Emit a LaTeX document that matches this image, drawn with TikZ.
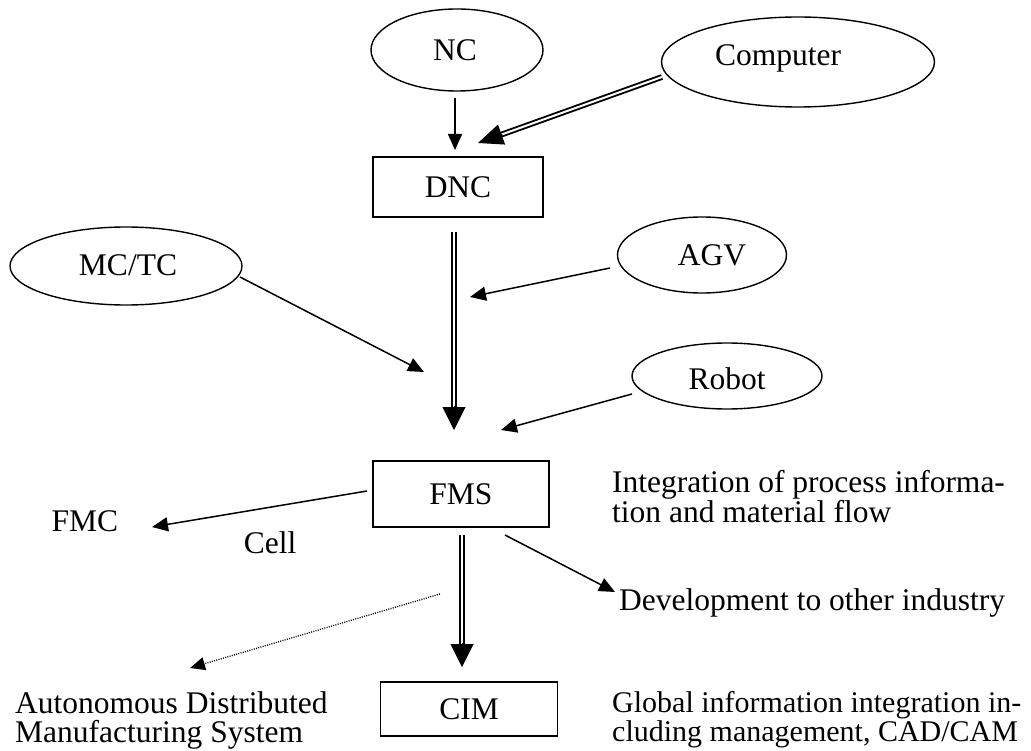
\documentclass[tikz,border=0pt]{standalone}
\usepackage{fontspec}
\setmainfont{Liberation Serif}
\usetikzlibrary{arrows.meta,shapes.geometric,calc}
\begin{document}
\begin{tikzpicture}[x=1pt,y=-1pt,
  font=\fontsize{31.5}{30}\selectfont,
  ell/.style={draw,ellipse,line width=1.4pt,inner sep=0pt},
  boxnode/.style={draw,rectangle,line width=1.4pt,inner sep=0pt},
  txt/.style={inner sep=0pt},
  arr/.style={line width=1.5pt,-{Triangle[length=16pt,width=14pt]}},
  dotarr/.style={line width=1.3pt,dash pattern=on 1pt off 1.3pt,-{Triangle[length=15pt,width=13pt]}},
  dbl/.style={double,line width=2.6pt,double distance=1.5pt},
  dblthin/.style={double,line width=1.9pt,double distance=2pt},
  bigtip/.style={-{Triangle[length=23pt,width=23pt]}},
  midtip/.style={-{Triangle[length=25pt,width=21pt]}}
]
\useasboundingbox (0,0) rectangle (1031,751);

% nodes
\node[ell,minimum width=172pt,minimum height=82pt] (nc) at (457,50) {};
\node[txt] (nct) at (455,50) {NC};
\node[ell,minimum width=273pt,minimum height=90pt] (comp) at (798,62) {};
\node[txt] (compt) at (778,58) {Computer};
\node[boxnode,minimum width=170pt,minimum height=60pt] (dnc) at (458,187) {DNC};
\node[ell,minimum width=232pt,minimum height=78pt] (mctc) at (126,266) {};
\node[txt] (mctct) at (128,265) {MC/TC};
\node[ell,minimum width=169pt,minimum height=76pt] (agv) at (702,255) {};
\node[txt] (agvt) at (712,255) {AGV};
\node[ell,minimum width=190pt,minimum height=66pt] (robot) at (727,376) {};
\node[txt] (robott) at (727,379) {Robot};
\node[boxnode,minimum width=176pt,minimum height=66pt] (fms) at (461,494) {FMS};
\node[txt] (fmc) at (85,521) {FMC};
\node[txt] (cell) at (270,543) {Cell};
\node[txt,align=left,anchor=west] (integ) at (612,497) {Integration of process informa-\\tion and material flow};
\node[txt,anchor=west] (dev) at (619,603) {Development to other industry};
\node[boxnode,minimum width=177pt,minimum height=54pt] (cim) at (469,709) {CIM};
\node[txt,align=left,anchor=west,font=\fontsize{31.5}{29}\selectfont] (auto) at (15,720) {Autonomous Distributed\\Manufacturing System};
\node[txt,align=left,anchor=west,font=\fontsize{30}{29}\selectfont] (glob) at (612,720) {Global information integration in-\\cluding management, CAD/CAM};

% connector end points
\coordinate (ncA) at (455,98);
\coordinate (ncB) at (455,150);
\coordinate (compA) at (662,77);
\coordinate (compB) at (478,143);
\coordinate (dncA) at (454,232);
\coordinate (dncB) at (454,430);
\coordinate (mcA) at (240,277);
\coordinate (mcB) at (424,372);
\coordinate (agvA) at (610,268);
\coordinate (agvB) at (470,297);
\coordinate (robA) at (632,394);
\coordinate (robB) at (501,430);
\coordinate (fmsL) at (367,491);
\coordinate (fmcB) at (152,527);
\coordinate (fmsD) at (462,535);
\coordinate (cimB) at (462,667);
\coordinate (fmsR) at (505,535);
\coordinate (devB) at (615,592);
\coordinate (dotA) at (440,594);
\coordinate (dotB) at (190,668);

% connectors
\draw[arr] (ncA) -- (ncB);
\draw[dblthin] (compA) -- ($(compB)!20pt!(compA)$);
\draw[midtip,line width=1pt] ($(compB)!26pt!(compA)$) -- (compB);
\draw[dbl] (dncA) -- ($(dncB)!20pt!(dncA)$);
\draw[bigtip,line width=1pt] ($(dncB)!24pt!(dncA)$) -- (dncB);
\draw[arr] (mcA) -- (mcB);
\draw[arr] (agvA) -- (agvB);
\draw[arr] (robA) -- (robB);
\draw[arr] (fmsL) -- (fmcB);
\draw[dbl] (fmsD) -- ($(cimB)!20pt!(fmsD)$);
\draw[bigtip,line width=1pt] ($(cimB)!24pt!(fmsD)$) -- (cimB);
\draw[arr] (fmsR) -- (devB);
\draw[dotarr] (dotA) -- (dotB);
\end{tikzpicture}
\end{document}
